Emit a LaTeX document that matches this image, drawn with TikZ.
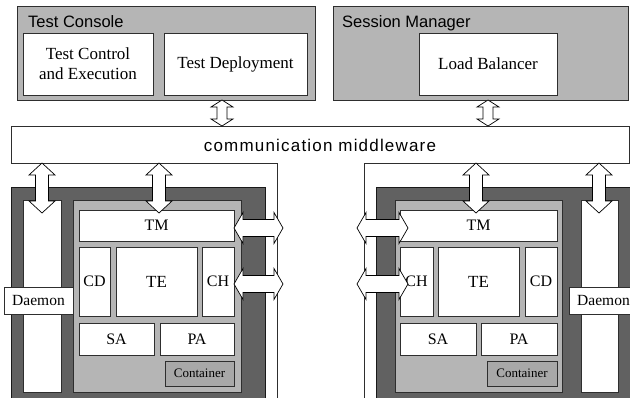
\documentclass[tikz,border=0pt]{standalone}
\usepackage{fontspec}
\setmainfont{Liberation Serif}
\setsansfont{Liberation Sans}
\usetikzlibrary{shadows}
\definecolor{lightg}{gray}{0.71}
\definecolor{darkg}{gray}{0.38}
\definecolor{labelg}{gray}{0.66}
\definecolor{edge}{gray}{0.18}
\newcommand\bnode[7][]{%
  \pgfmathsetmacro\bxcx{(#3+#5)/2}\pgfmathsetmacro\bxcy{(#4+#6)/2}%
  \pgfmathsetmacro\bxw{#5-#3}\pgfmathsetmacro\bxh{#6-#4}%
  \node[#1, minimum width=\bxw pt, minimum height=\bxh pt] (#2) at (\bxcx,\bxcy) {#7};}
% vertical double block arrow: x, ytop, ybottom, shaft half, head half, head length
\newcommand\vblock[6]{%
  \draw[blockarrow] (#1,#2) -- (#1+#5,#2+#6) -- (#1+#4,#2+#6) -- (#1+#4,#3-#6) -- (#1+#5,#3-#6)
    -- (#1,#3) -- (#1-#5,#3-#6) -- (#1-#4,#3-#6) -- (#1-#4,#2+#6) -- (#1-#5,#2+#6) -- cycle;}
% horizontal double block arrow: y, xleft, xright, shaft half, head half, head length
\newcommand\hblock[6]{%
  \draw[blockarrow] (#2,#1) -- (#2+#6,#1-#5) -- (#2+#6,#1-#4) -- (#3-#6,#1-#4) -- (#3-#6,#1-#5)
    -- (#3,#1) -- (#3-#6,#1+#5) -- (#3-#6,#1+#4) -- (#2+#6,#1+#4) -- (#2+#6,#1+#5) -- cycle;}
\tikzset{
  bx/.style={draw=edge, line width=0.7pt, inner sep=0pt, outer sep=0pt},
  shad/.style={drop shadow={shadow xshift=1.3pt, shadow yshift=-1.3pt, fill=black!85, opacity=1}},
  wbox/.style={bx, fill=white, shad, align=center},
  gbox/.style={bx, fill=lightg, shad},
  hostbox/.style={bx, draw=black!90, fill=darkg},
  lblbox/.style={bx, fill=labelg, font=\fontsize{13}{15}\selectfont},
  blockarrow/.style={draw=black, fill=white, line width=0.7pt, line join=miter},
  serifA/.style={font=\fontsize{17}{20}\selectfont},
  serifB/.style={font=\fontsize{16}{18}\selectfont},
  head/.style={font=\sffamily\fontsize{16.5}{19}\selectfont, anchor=base west, inner sep=0pt}
}
\begin{document}
\begin{tikzpicture}[x=1pt,y=-1pt]
\useasboundingbox (0,0) rectangle (630,397);
\clip (0,0) rectangle (630,397);

% top boxes
\bnode[gbox]{tc}{17}{6}{315}{100}{}
\node[head] (tct) at (28,27) {Test Console};
\bnode[wbox,serifA]{tce}{23}{33}{153}{95}{Test Control\\and Execution}
\bnode[wbox,serifA]{td}{164}{33}{307}{95}{Test Deployment}

\bnode[gbox]{sm}{333}{6}{628}{100}{}
\node[head] (smt) at (342,27) {Session Manager};
\bnode[wbox,serifA]{lb}{419}{33}{557}{95}{Load Balancer}

% middleware
\draw[bx, fill=white] (11,126) -- (629,126) -- (629,163) -- (364,163) -- (364,400)
  -- (277,400) -- (277,163) -- (11,163) -- cycle;
\node[font=\sffamily\fontsize{17}{20}\selectfont\addfontfeature{LetterSpace=7}] (mw) at (320,145) {communication middleware};

% left host
\bnode[hostbox]{hostL}{11}{187}{265}{420}{}
\bnode[bx,fill=white]{dcolL}{23}{200}{61}{392}{}
\bnode[gbox]{contL}{73}{200}{241}{392}{}
\bnode[wbox,serifB]{tmL}{79}{210}{234}{241}{TM}
\bnode[wbox,serifB]{cdL}{79}{247}{110}{316}{CD}
\bnode[wbox,serifA]{teL}{116}{247}{197}{316}{TE}
\bnode[wbox,serifB]{chL}{202}{247}{234}{316}{CH}
\bnode[wbox,serifB]{saL}{79}{323}{154}{355}{SA}
\bnode[wbox,serifB]{paL}{160}{323}{234}{355}{PA}
\bnode[lblbox]{clL}{165}{361}{234}{386}{Container}
\bnode[bx,fill=white,font=\fontsize{15.5}{18}\selectfont]{daeL}{4}{287}{73}{314}{Daemon}

% right host
\bnode[hostbox]{hostR}{376}{187}{640}{420}{}
\bnode[bx,fill=white]{dcolR}{581}{200}{618}{392}{}
\bnode[gbox]{contR}{395}{200}{562}{392}{}
\bnode[wbox,serifB]{tmR}{400}{210}{557}{241}{TM}
\bnode[wbox,serifB]{chR}{400}{247}{433}{316}{CH}
\bnode[wbox,serifA]{teR}{438}{247}{519}{316}{TE}
\bnode[wbox,serifB]{cdR}{525}{247}{557}{316}{CD}
\bnode[wbox,serifB]{saR}{400}{323}{476}{355}{SA}
\bnode[wbox,serifB]{paR}{481}{323}{557}{355}{PA}
\bnode[lblbox]{clR}{487}{361}{557}{386}{Container}
\bnode[bx,fill=white,font=\fontsize{15.5}{18}\selectfont]{daeR}{569}{287}{638}{314}{Daemon}

% arrows top
\vblock{222}{100}{126}{5}{11}{7}
\vblock{488}{100}{126}{5}{11}{7}
% arrows to hosts
\vblock{42}{163}{213}{6.5}{13}{12}
\vblock{159}{163}{213}{6.5}{13}{12}
\vblock{476}{163}{213}{6.5}{13}{12}
\vblock{599}{163}{213}{6.5}{13}{12}
% horizontal arrows
\hblock{228}{234}{283}{8.5}{15.5}{9}
\hblock{284}{234}{283}{8.5}{15.5}{9}
\hblock{228}{357}{408}{8.5}{15.5}{9}
\hblock{284}{357}{408}{8.5}{15.5}{9}
\end{tikzpicture}
\end{document}
